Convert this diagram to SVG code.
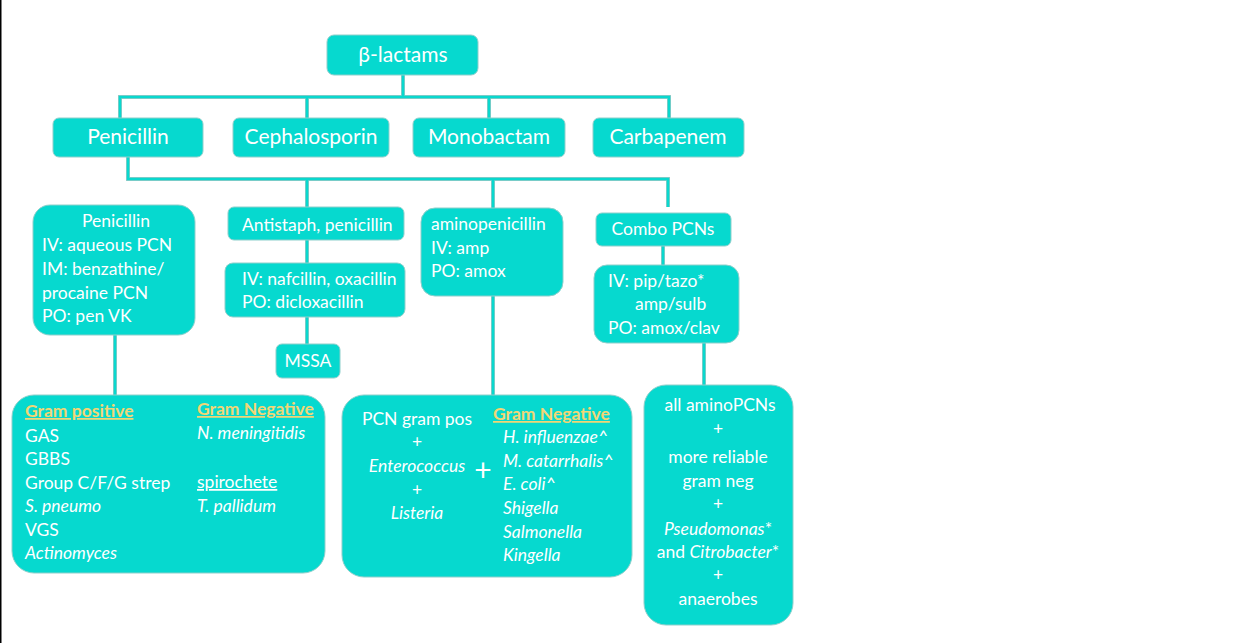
<svg xmlns="http://www.w3.org/2000/svg" width="1245" height="643" viewBox="0 0 1245 643">
<style>
.box{fill:#06D9CF;stroke:#8ECFCB;stroke-width:1}
.t{font-family:Lato,"Open Sans","Liberation Sans",sans-serif;fill:#ffffff}
.l2{font-size:21px}
.s{font-size:17.5px}
.c{text-anchor:middle}
.i{font-style:italic}
.g{fill:#F2D675;font-weight:bold;text-decoration:underline}
.u{text-decoration:underline}
.lo{fill:none;stroke:#9FC9C6;stroke-width:4}
.li{fill:none;stroke:#0AD8CE;stroke-width:2.6}
</style>
<rect x="0" y="0" width="1245" height="643" fill="#ffffff"/>
<rect x="0" y="0" width="1.5" height="643" fill="#000000"/>
<g id="connectors">
<path class="lo" d="M403 75V97M120 118V97H669V118M307 97V118M489 97V118M128 157V179H668V207M307 179V207M493 179V208M307 240V263M307 317V344M663 246V265M493 296V395M115 335V395M704 343V385"/>
<path class="li" d="M403 75V97M120 118V97H669V118M307 97V118M489 97V118M128 157V179H668V207M307 179V207M493 179V208M307 240V263M307 317V344M663 246V265M493 296V395M115 335V395M704 343V385"/>
</g>
<g id="blactams"><rect class="box" x="327" y="35" width="151" height="40" rx="7"/><text class="t l2 c" x="403" y="62">β-lactams</text></g>
<g id="penicillin"><rect class="box" x="53" y="118" width="150" height="39" rx="6"/><text class="t l2 c" x="128" y="144">Penicillin</text></g>
<g id="cephalosporin"><rect class="box" x="233" y="118" width="156" height="39" rx="6"/><text class="t l2 c" x="311" y="144">Cephalosporin</text></g>
<g id="monobactam"><rect class="box" x="413" y="118" width="152" height="39" rx="6"/><text class="t l2 c" x="489" y="144">Monobactam</text></g>
<g id="carbapenem"><rect class="box" x="593" y="118" width="151" height="39" rx="6"/><text class="t l2 c" x="668" y="144">Carbapenem</text></g>
<g id="pen-natural"><rect class="box" x="33" y="205" width="162" height="130" rx="17"/>
<text class="t s c" x="116" y="227">Penicillin</text>
<text class="t s" x="42" y="251">IV: aqueous PCN</text>
<text class="t s" x="42" y="275">IM: benzathine/</text>
<text class="t s" x="42" y="299">procaine PCN</text>
<text class="t s" x="42" y="322">PO: pen VK</text></g>
<g id="antistaph"><rect class="box" x="228" y="207" width="176" height="33" rx="6"/><text class="t s" x="242" y="231">Antistaph, penicillin</text></g>
<g id="antistaph-drugs"><rect class="box" x="225" y="263" width="180" height="54" rx="8"/>
<text class="t s" x="242" y="285">IV: nafcillin, oxacillin</text>
<text class="t s" x="242" y="308">PO: dicloxacillin</text></g>
<g id="mssa"><rect class="box" x="276" y="344" width="64" height="34" rx="6"/><text class="t s c" x="308" y="367">MSSA</text></g>
<g id="aminopenicillin"><rect class="box" x="421" y="208" width="142" height="88" rx="14"/>
<text class="t s" x="431" y="230">aminopenicillin</text>
<text class="t s" x="431" y="254">IV: amp</text>
<text class="t s" x="431" y="277">PO: amox</text></g>
<g id="combo"><rect class="box" x="596" y="213" width="135" height="33" rx="6"/><text class="t s c" x="663" y="235">Combo PCNs</text></g>
<g id="combo-drugs"><rect class="box" x="594" y="265" width="145" height="78" rx="13"/>
<text class="t s" x="608" y="287">IV: pip/tazo*</text>
<text class="t s" x="635" y="310">amp/sulb</text>
<text class="t s" x="608" y="334">PO: amox/clav</text></g>
<g id="pen-coverage"><rect class="box" x="12" y="395" width="313" height="178" rx="22"/>
<text class="t s g" x="25" y="417">Gram positive</text>
<text class="t s" x="25" y="442">GAS</text>
<text class="t s" x="25" y="465">GBBS</text>
<text class="t s" x="25" y="489">Group C/F/G strep</text>
<text class="t s i" x="25" y="512">S. pneumo</text>
<text class="t s" x="25" y="536">VGS</text>
<text class="t s i" x="25" y="559">Actinomyces</text>
<text class="t s g" x="197" y="415">Gram Negative</text>
<text class="t s i" x="197" y="439">N. meningitidis</text>
<text class="t s u" x="197" y="488">spirochete</text>
<text class="t s i" x="197" y="512">T. pallidum</text></g>
<g id="amino-coverage"><rect class="box" x="342" y="395" width="290" height="182" rx="22"/>
<text class="t s c" x="417" y="425">PCN gram pos</text>
<text class="t s c" x="417" y="448">+</text>
<text class="t s c i" x="417" y="472">Enterococcus</text>
<text class="t s c" x="417" y="496">+</text>
<text class="t s c i" x="417" y="519">Listeria</text>
<text class="t c" x="483" y="481" font-size="30">+</text>
<text class="t s g" x="493" y="420">Gram Negative</text>
<text class="t s i" x="503" y="443">H. influenzae^</text>
<text class="t s i" x="503" y="467">M. catarrhalis^</text>
<text class="t s i" x="503" y="490">E. coli^</text>
<text class="t s i" x="503" y="514">Shigella</text>
<text class="t s i" x="503" y="538">Salmonella</text>
<text class="t s i" x="503" y="561">Kingella</text></g>
<g id="combo-coverage"><rect class="box" x="644" y="385" width="149" height="240" rx="22"/>
<text class="t s c" x="720" y="411">all aminoPCNs</text>
<text class="t s c" x="718" y="435">+</text>
<text class="t s c" x="718" y="463">more reliable</text>
<text class="t s c" x="718" y="487">gram neg</text>
<text class="t s c" x="718" y="510">+</text>
<text class="t s c" x="718" y="535"><tspan class="i">Pseudomonas</tspan>*</text>
<text class="t s c" x="718" y="558">and <tspan class="i">Citrobacter</tspan>*</text>
<text class="t s c" x="718" y="581">+</text>
<text class="t s c" x="718" y="605">anaerobes</text></g>
</svg>
